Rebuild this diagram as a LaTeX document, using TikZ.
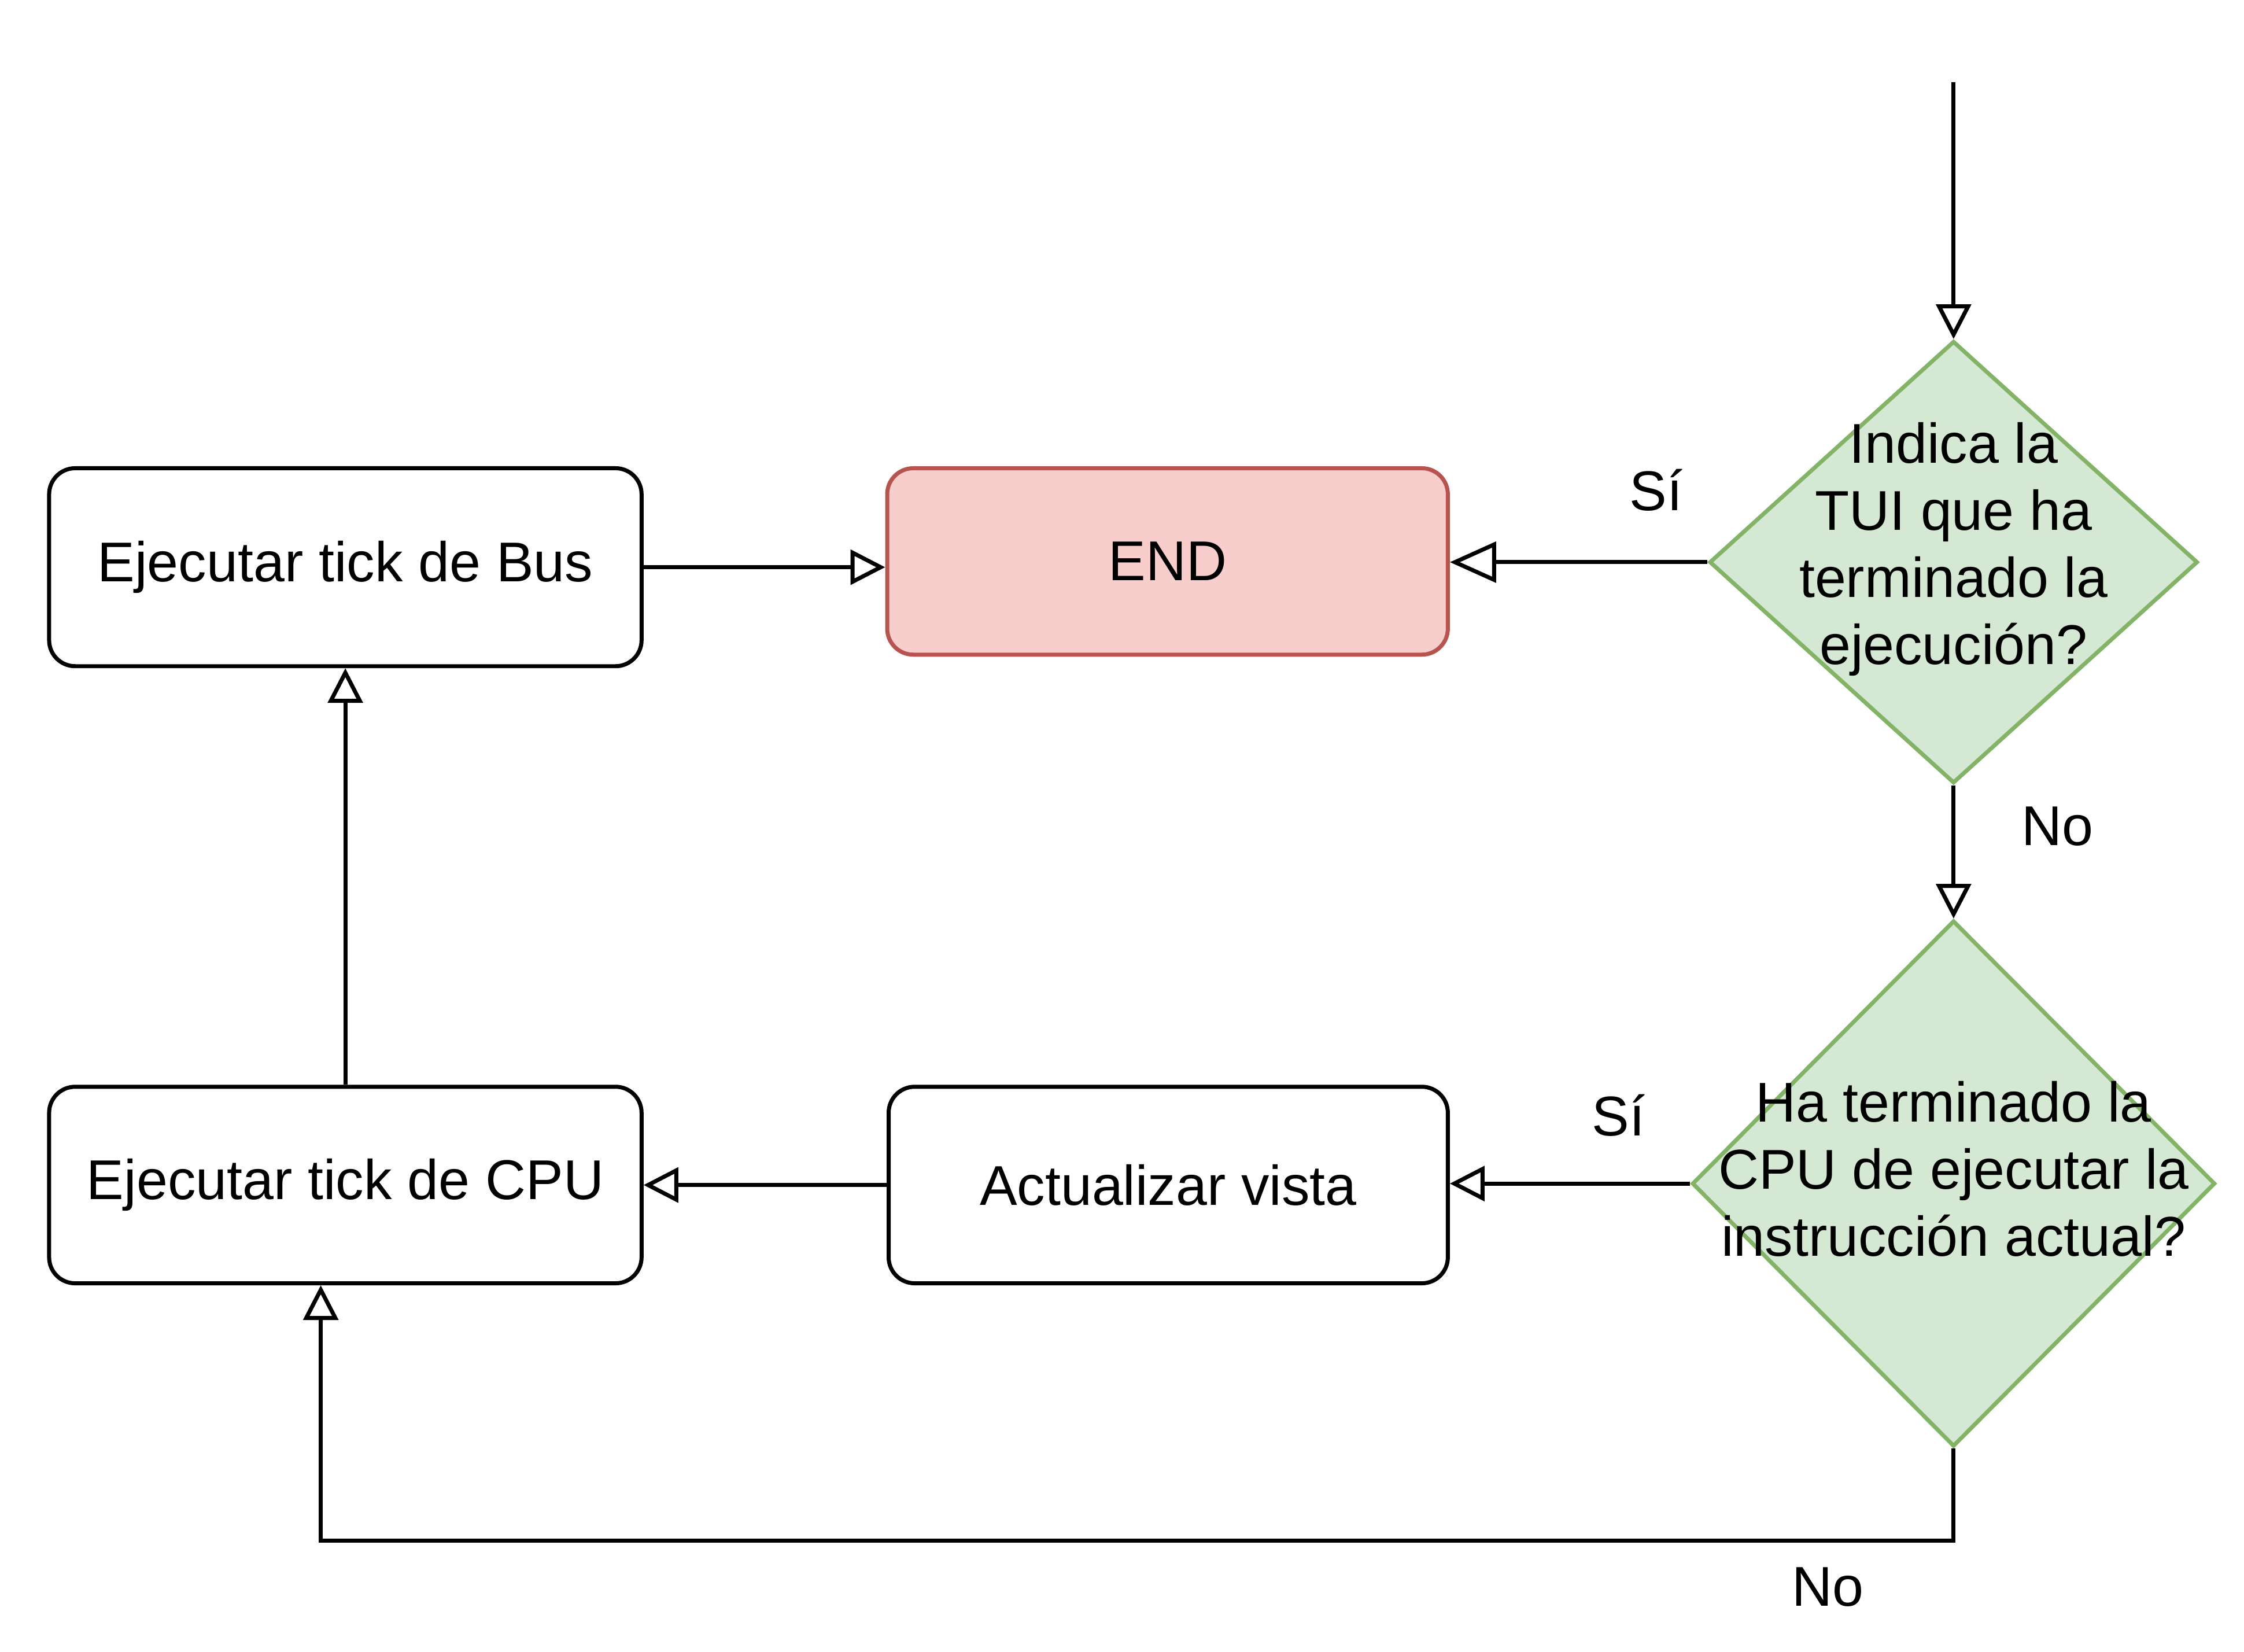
\documentclass[tikz,border=0pt]{standalone}
\usepackage{fontspec}
\setmainfont{Liberation Sans}
\usetikzlibrary{shapes.geometric,arrows.meta}
\definecolor{gfill}{HTML}{D5E8D4}
\definecolor{gline}{HTML}{82B366}
\definecolor{rfill}{HTML}{F8CECC}
\definecolor{rline}{HTML}{B85450}
\begin{document}
\begin{tikzpicture}[x=0.25pt,y=-0.25pt,
  every node/.style={font=\fontsize{9.7pt}{11.6pt}\selectfont},
  procbox/.style={draw=black,line width=0.7pt,rounded corners=4.5pt,fill=white,inner sep=0pt},
  endbox/.style={draw=rline,line width=0.7pt,rounded corners=4.5pt,fill=rfill,inner sep=0pt},
  decision/.style={diamond,draw=gline,line width=0.7pt,fill=gfill,inner sep=0pt,shape aspect=1},
  dtext/.style={align=center,inner sep=0pt},
  arr/.style={draw=black,line width=0.7pt,-{Triangle[open,length=6pt,width=6pt]}},
  bigarr/.style={draw=black,line width=0.7pt,-{Triangle[open,length=8pt,width=7pt]}},
  lbl/.style={inner sep=0pt}]
\useasboundingbox (0,0) rectangle (1553,1143);
% nodes
\node[procbox,minimum width=102.5pt,minimum height=34.25pt] (bus) at (239,392.5) {Ejecutar tick de Bus};
\node[endbox,minimum width=97pt,minimum height=32.25pt] (end) at (808,388.5) {END};
\node[procbox,minimum width=96.75pt,minimum height=34pt] (act) at (808.5,820) {Actualizar vista};
\node[procbox,minimum width=102.5pt,minimum height=34pt] (cpu) at (239,820) {Ejecutar tick de CPU};
\node[decision,minimum width=84.5pt,minimum height=76.5pt] (d1) at (1352,389) {};
\node[dtext] (t1) at (1352,380) {Indica la\\TUI que ha\\terminado la\\ejecución?};
\node[decision,minimum width=90.5pt,minimum height=91pt] (d2) at (1352,819) {};
\node[dtext] (t2) at (1352,809) {Ha terminado la\\CPU de ejecutar la\\instrucción actual?};
% labels
\node[lbl] (si1) at (1146,339) {Sí};
\node[lbl] (no1) at (1424,572) {No};
\node[lbl] (si2) at (1120,772) {Sí};
\node[lbl] (no2) at (1265,1098) {No};
% coordinates
\coordinate (start) at (1352,57);
\coordinate (lp) at (222,1066);
% connectors
\draw[arr] (start) -- (d1.north);
\draw[bigarr] (d1.west) -- (end.east |- d1.west);
\draw[arr] (bus.east) -- (end.west |- bus.east);
\draw[arr] (d1.south) -- (d2.north);
\draw[arr] (d2.west) -- (act.east |- d2.west);
\draw[arr] (act.west) -- (cpu.east |- act.west);
\draw[arr] (cpu.north) -- (bus.south);
\draw[arr] (d2.south) |- (lp) -- (cpu.south -| lp);
\end{tikzpicture}
\end{document}
